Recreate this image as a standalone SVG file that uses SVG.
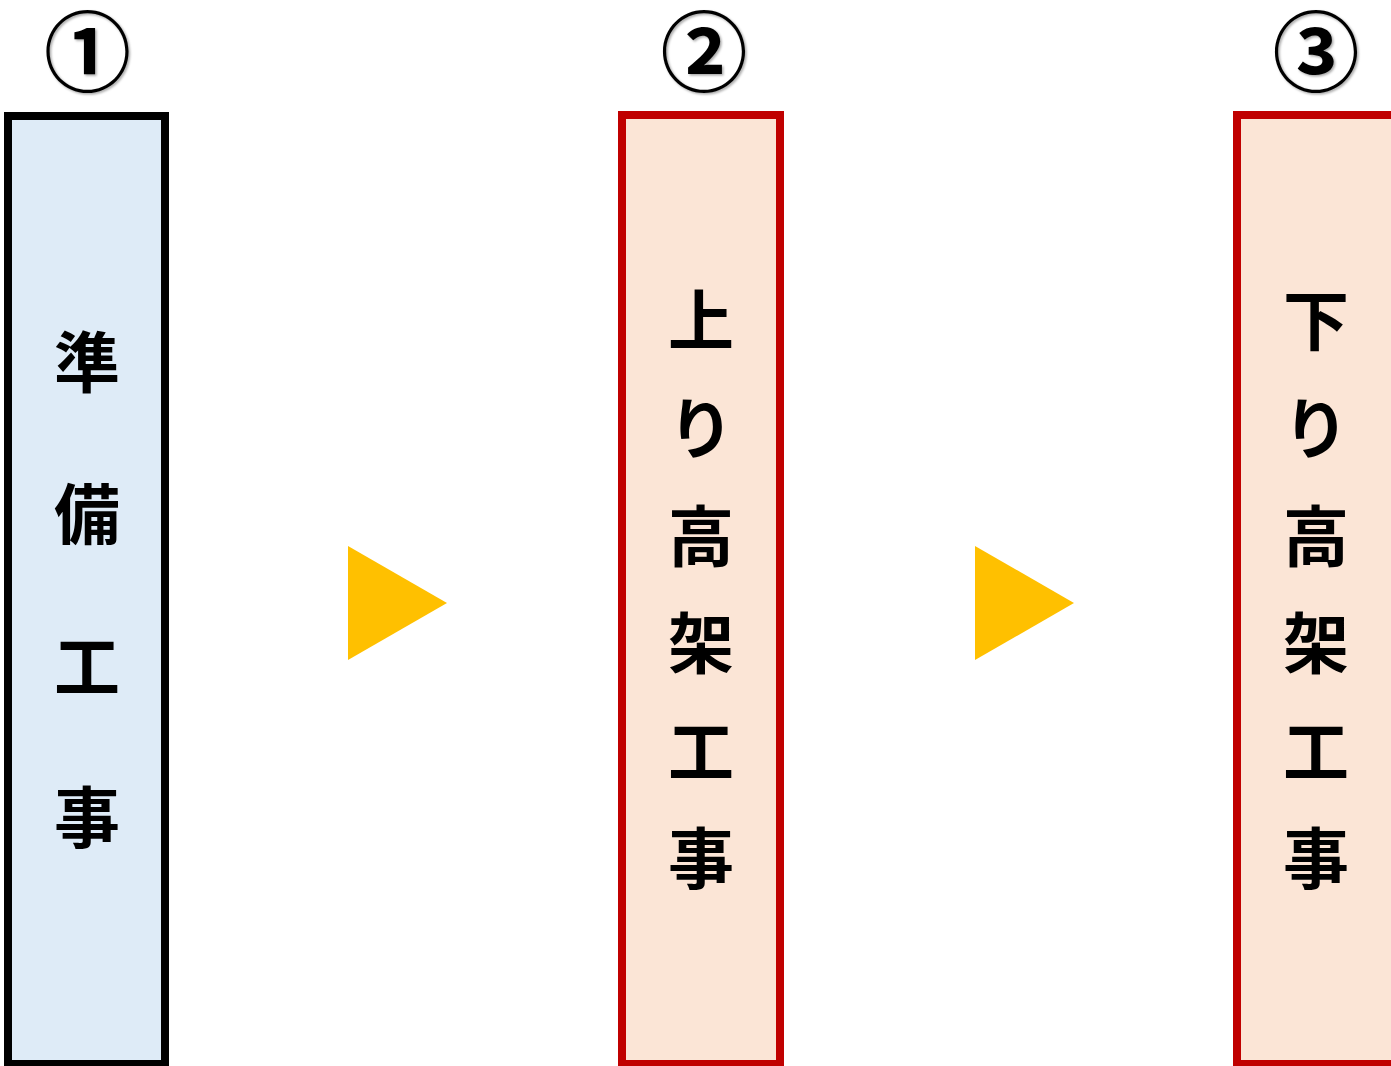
<svg xmlns="http://www.w3.org/2000/svg" width="1391" height="1066" viewBox="0 0 1391 1066">
<defs>
<style>
.box1{fill:#DEEBF7;stroke:#000;stroke-width:8}
.box2{fill:#FBE5D6;stroke:#C00000;stroke-width:8}
.ch{font-family:"Noto Sans CJK JP","Noto Sans CJK SC",sans-serif;font-size:66px;font-weight:700;fill:#000;text-anchor:middle;dominant-baseline:central}
.num{font-family:"Noto Sans CJK JP","Noto Sans CJK SC",sans-serif;font-size:87px;font-weight:700;fill:#000;text-anchor:middle;dominant-baseline:central}
.arrow{fill:#FFC000}
</style>
<filter id="sh" x="-20%" y="-20%" width="140%" height="140%">
<feDropShadow dx="1.5" dy="1.5" stdDeviation="1.2" flood-color="#000" flood-opacity="0.35"/>
</filter>
</defs>
<g id="step1">
<rect class="box1" x="8" y="116" width="157" height="948"/>
<text class="num" x="87.5" y="47" filter="url(#sh)">①</text>
<text class="ch" x="87" y="358">準</text>
<text class="ch" x="87" y="510">備</text>
<text class="ch" x="87" y="662">工</text>
<text class="ch" x="87" y="813">事</text>
</g>
<g id="step2">
<rect class="box2" x="622" y="115" width="158" height="949"/>
<text class="num" x="704" y="47" filter="url(#sh)">②</text>
<text class="ch" x="701" y="316">上</text>
<text class="ch" x="701" y="424">り</text>
<text class="ch" x="701" y="532">高</text>
<text class="ch" x="701" y="639">架</text>
<text class="ch" x="701" y="747">工</text>
<text class="ch" x="701" y="854">事</text>
</g>
<g id="step3">
<rect class="box2" x="1237" y="115" width="158" height="949"/>
<text class="num" x="1316" y="47" filter="url(#sh)">③</text>
<text class="ch" x="1316" y="316">下</text>
<text class="ch" x="1316" y="424">り</text>
<text class="ch" x="1316" y="532">高</text>
<text class="ch" x="1316" y="639">架</text>
<text class="ch" x="1316" y="747">工</text>
<text class="ch" x="1316" y="854">事</text>
</g>
<g id="connectors">
<polygon class="arrow" points="348,546 447,603 348,660"/>
<polygon class="arrow" points="975,546 1074,603 975,660"/>
</g>
</svg>
